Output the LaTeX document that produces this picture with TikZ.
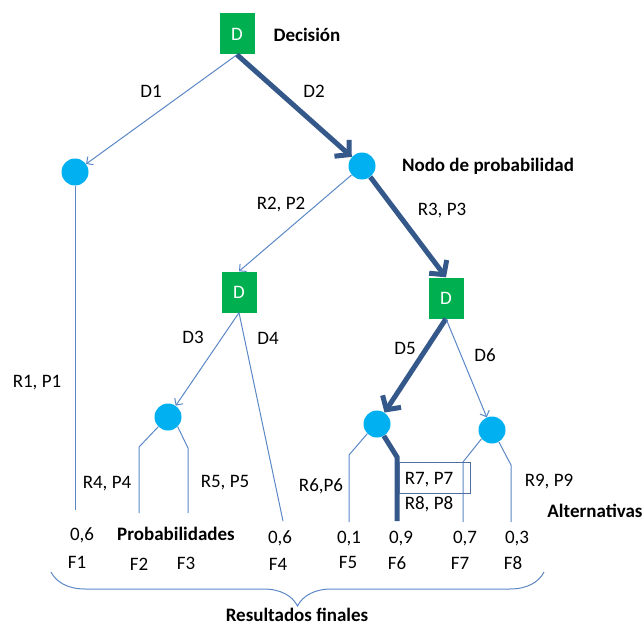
\documentclass[tikz,border=0pt]{standalone}
\usepackage{fontspec}
\setmainfont{Carlito}
\usetikzlibrary{arrows.meta,decorations.pathreplacing}
\definecolor{dgreen}{HTML}{00B050}
\definecolor{lblue}{HTML}{00B0F0}
\definecolor{thinc}{HTML}{5B87C6}
\definecolor{thickc}{HTML}{35588A}
\definecolor{boxc}{HTML}{4F6FA0}
\begin{document}
\begin{tikzpicture}[x=1pt,y=-1pt,
  font=\fontsize{19}{22}\selectfont,
  dec/.style={rectangle, fill=dgreen, text=white, minimum width=35pt, minimum height=41pt, inner sep=0pt},
  chance/.style={circle, fill=lblue, minimum size=27pt, inner sep=0pt},
  thinline/.style={draw=thinc, line width=1pt},
  thickline/.style={draw=thickc, line width=5pt},
  thinarr/.style={thinline, -{Straight Barb[length=5pt,width=10pt]}},
  thickarr/.style={thickline, -{Straight Barb[length=10pt,width=22pt]}},
  lbl/.style={inner sep=0pt, anchor=center, text height=12pt, text depth=0pt},
  blbl/.style={lbl, font=\fontsize{19}{22}\selectfont\bfseries}
]
\useasboundingbox (0,0) rectangle (643,626);

% decision and chance nodes
\node[dec] (dA) at (237,34) {D};
\node[chance] (cL) at (75,172) {};
\node[chance] (cP) at (362,166) {};
\node[dec] (dB) at (239,292) {D};
\node[dec] (dC) at (446,298) {D};
\node[chance] (cQ) at (168,417) {};
\node[chance] (cR) at (377,424) {};
\node[chance] (cS) at (492,430) {};

% free ends
\coordinate (eL) at (75,510);
\coordinate (eD4) at (283,521);
\coordinate (q1a) at (139,447); \coordinate (q1b) at (139,513);
\coordinate (q2a) at (188,448); \coordinate (q2b) at (188,513);
\coordinate (r1a) at (349,455); \coordinate (r1b) at (349,522);
\coordinate (r2a) at (397,457); \coordinate (r2b) at (397,521);
\coordinate (s1a) at (463,462); \coordinate (s1b) at (463,522);
\coordinate (s2a) at (511,465); \coordinate (s2b) at (511,522);
\coordinate (bl) at (51,572); \coordinate (br) at (544,572);

% connectors
\draw[thinarr] (dA.south) -- (cL);
\draw[thickarr] (dA.south) -- (cP);
\draw[thinarr] (cP) -- (dB.north);
\draw[thickarr] (cP) -- (dC.north);
\draw[thinline] (cL) -- (eL);
\draw[thinarr] (dB.south) -- (cQ);
\draw[thinline] (dB.south) -- (eD4);
\draw[thinline] (cQ.225) -- (q1a) -- (q1b);
\draw[thinline] (cQ.-45) -- (q2a) -- (q2b);
\draw[thickarr] (dC.south) -- (cR);
\draw[thinarr] (dC.south) -- (cS);
\draw[thinline] (cR.225) -- (r1a) -- (r1b);
\draw[thickline] (cR.-60) -- (r2a) -- (r2b);
\draw[thinline] (cS.220) -- (s1a) -- (s1b);
\draw[thinline] (cS.-60) -- (s2a) -- (s2b);

% box around R7, P7
\node[draw=boxc, line width=0.8pt, minimum width=71pt, minimum height=31pt, inner sep=0pt] (box) at (434.5,477.5) {};

% brace
\draw[thinline, decorate, decoration={brace, mirror, amplitude=34pt}] (bl) -- (br);

% labels
\node[blbl] (tDec) at (307,36) {Decisión};
\node[lbl] (tD1) at (151,91) {D1};
\node[lbl] (tD2) at (314,91) {D2};
\node[blbl] (tNodo) at (488,165) {Nodo de probabilidad};
\node[lbl] (tR2) at (281,203) {R2, P2};
\node[lbl] (tR3) at (442,209) {R3, P3};
\node[lbl] (tR1) at (37,381) {R1, P1};
\node[lbl] (tD3) at (193,337) {D3};
\node[lbl] (tD4) at (268,338) {D4};
\node[lbl] (tD5) at (405,348) {D5};
\node[lbl] (tD6) at (485,355) {D6};
\node[lbl] (tR4) at (107,482) {R4, P4};
\node[lbl] (tR5) at (225,481) {R5, P5};
\node[lbl] (tR6) at (321,485) {R6,P6};
\node[lbl] (tR7) at (429,478) {R7, P7};
\node[lbl] (tR8) at (429,503) {R8, P8};
\node[lbl] (tR9) at (549,480) {R9, P9};
\node[blbl] (tAlt) at (595,511) {Alternativas};
\node[lbl] (p1) at (82,534) {0,6};
\node[blbl] (tProb) at (176,534) {Probabilidades};
\node[lbl] (p4) at (280,537) {0,6};
\node[lbl] (p5) at (349,537) {0,1};
\node[lbl] (p6) at (401,537) {0,9};
\node[lbl] (p7) at (465,537) {0,7};
\node[lbl] (p8) at (517,537) {0,3};
\node[lbl] (f1) at (77,562) {F1};
\node[lbl] (f2) at (139,564) {F2};
\node[lbl] (f3) at (186,563) {F3};
\node[lbl] (f4) at (278,564) {F4};
\node[lbl] (f5) at (348,562) {F5};
\node[lbl] (f6) at (397,563) {F6};
\node[lbl] (f7) at (460,563) {F7};
\node[lbl] (f8) at (513,563) {F8};
\node[blbl] (tRes) at (297,615) {Resultados finales};
\end{tikzpicture}
\end{document}
